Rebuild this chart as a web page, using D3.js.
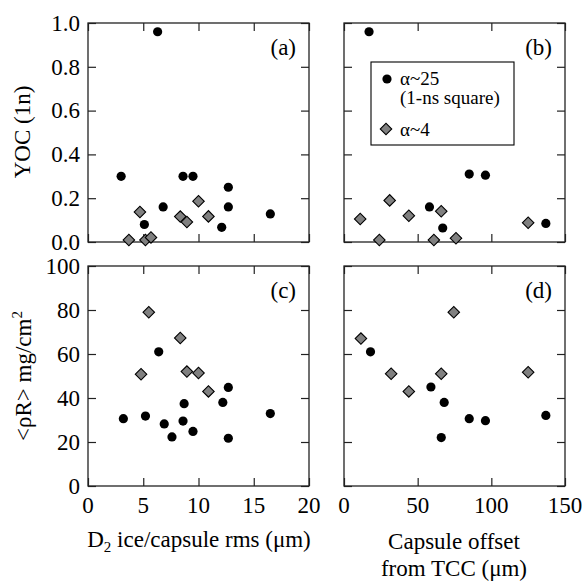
<!DOCTYPE html>
<head>
    <meta charset=utf-8>
    <title>YOC and rhoR</title>
    <script src="https://d3js.org/d3.v7.min.js"></script>
</head>
<body style="margin:0">
<script>
    // panel (a): D2 ice/capsule rms vs YOC
    var aCircleRms = [3.0, 6.3, 6.8, 5.1, 8.6, 9.5, 12.7, 12.7, 12.1, 16.5],
        aCircleYoc = [0.30, 0.96, 0.16, 0.08, 0.30, 0.30, 0.25, 0.16, 0.067, 0.128],
        aDiamondRms = [4.7, 3.7, 5.2, 5.7, 8.35, 8.95, 10.0, 10.9],
        aDiamondYoc = [0.137, 0.009, 0.009, 0.021, 0.116, 0.091, 0.186, 0.117];

    // panel (b): capsule offset vs YOC
    var bCircleOffset = [17, 85, 96, 58, 67, 137],
        bCircleYoc = [0.96, 0.31, 0.305, 0.16, 0.064, 0.085],
        bDiamondOffset = [11, 31, 44, 66, 24, 61, 76, 125],
        bDiamondYoc = [0.105, 0.19, 0.12, 0.14, 0.009, 0.009, 0.017, 0.088];

    // panel (c): rms vs <rhoR>
    var cCircleRms = [3.2, 5.2, 6.4, 6.9, 7.6, 8.7, 8.6, 9.5, 12.2, 12.7, 12.7, 16.5],
        cCircleRhoR = [30.6, 31.8, 61.0, 28.2, 22.3, 37.4, 29.5, 24.8, 38.0, 44.8, 21.7, 32.9],
        cDiamondRms = [5.5, 4.8, 8.35, 8.95, 10.0, 10.9],
        cDiamondRhoR = [79, 50.8, 67.3, 52, 51.4, 43];

    // panel (d): offset vs <rhoR>
    var dCircleOffset = [18, 59, 68, 85, 96, 137, 66],
        dCircleRhoR = [61, 45, 38, 30.6, 29.7, 32.1, 22],
        dDiamondOffset = [11.5, 74.5, 32, 66, 44, 125],
        dDiamondRhoR = [67, 79, 51, 51, 43, 51.7];

    var rmsTicks = [0, 5, 10, 15, 20],
        offsetTicks = [0, 50, 100, 150],
        yocTicks = [0, 0.2, 0.4, 0.6, 0.8, 1.0],
        rhoRTicks = [0, 20, 40, 60, 80, 100];

    var FONT = "'Liberation Serif', monospace";

    var svg = d3.select("body").append("svg")
        .attr("width", 588).attr("height", 583);

    var colL = [88, 309], colR = [344, 565],
        rowT = [242, 23], rowB = [486, 266];

    var xRms = d3.scaleLinear().domain([0, 20]).range(colL),
        xOff = d3.scaleLinear().domain([0, 150]).range(colR),
        yYoc = d3.scaleLinear().domain([0, 1]).range(rowT),
        yRho = d3.scaleLinear().domain([0, 100]).range(rowB);

    var zip = (xs, ys) => xs.map((v, i) => [v, ys[i]]);

    // every label goes through here so the serif font sticks
    function label(parent, size, str) {
        return parent.append("text").attr("font-size", size)
            .style("font-family", FONT).text(str);
    }

    function diamond(sel) {
        return sel.attr("d", d3.symbol(d3.symbolSquare, 66))
            .attr("fill", "#808080").attr("stroke", "#000").attr("stroke-width", 1.1);
    }

    function panel(x, y, xt, yt, showX, showY, fmtY, tag, circles, diamonds) {
        var g = svg.append("g");
        var x0 = x.range()[0], x1 = x.range()[1], y0 = y.range()[0], y1 = y.range()[1];

        // inward ticks on all four sides, labels drawn by hand below
        g.append("g").attr("transform", "translate(0," + y0 + ")")
            .call(d3.axisBottom(x).tickValues(xt).tickSizeInner(-8).tickSizeOuter(0).tickFormat(""));
        g.append("g").attr("transform", "translate(0," + y1 + ")")
            .call(d3.axisTop(x).tickValues(xt).tickSizeInner(-8).tickSizeOuter(0).tickFormat(""));
        g.append("g").attr("transform", "translate(" + x0 + ",0)")
            .call(d3.axisLeft(y).tickValues(yt).tickSizeInner(-8).tickSizeOuter(0).tickFormat(""));
        g.append("g").attr("transform", "translate(" + x1 + ",0)")
            .call(d3.axisRight(y).tickValues(yt).tickSizeInner(-8).tickSizeOuter(0).tickFormat(""));
        g.selectAll(".domain").remove();
        g.selectAll(".tick text").remove();
        g.selectAll(".tick line").attr("stroke", "#222").attr("stroke-width", 1.2);

        if (showX) {
            xt.forEach(v => label(g, 23, v).attr("x", x(v)).attr("y", y0 + 27)
                .attr("text-anchor", "middle"));
        }
        if (showY) {
            yt.forEach(v => label(g, 23, fmtY(v)).attr("x", x0 - 8).attr("y", y(v))
                .attr("dy", "0.34em").attr("text-anchor", "end"));
        }

        g.append("rect").attr("x", x0).attr("y", y1).attr("width", x1 - x0).attr("height", y0 - y1)
            .attr("fill", "none").attr("stroke", "#222").attr("stroke-width", 1.3);

        label(g, 23, tag).attr("x", x1 - 13).attr("y", y1 + 32).attr("text-anchor", "end");

        g.selectAll("circle").data(circles).join("circle")
            .attr("r", 4.6).attr("fill", "#000")
            .attr("cx", d => x(d[0])).attr("cy", d => y(d[1]));

        g.selectAll("path.diam").data(diamonds).join("path")
            .attr("class", "diam").call(diamond)
            .attr("transform", d => "translate(" + x(d[0]) + "," + y(d[1]) + ") rotate(45)");
    }

    var f1 = d3.format(".1f"), f0 = d3.format("d");

    panel(xRms, yYoc, rmsTicks, yocTicks, false, true, f1, "(a)",
        zip(aCircleRms, aCircleYoc), zip(aDiamondRms, aDiamondYoc));
    panel(xOff, yYoc, offsetTicks, yocTicks, false, false, f1, "(b)",
        zip(bCircleOffset, bCircleYoc), zip(bDiamondOffset, bDiamondYoc));
    panel(xRms, yRho, rmsTicks, rhoRTicks, true, true, f0, "(c)",
        zip(cCircleRms, cCircleRhoR), zip(cDiamondRms, cDiamondRhoR));
    panel(xOff, yRho, offsetTicks, rhoRTicks, true, false, f0, "(d)",
        zip(dCircleOffset, dCircleRhoR), zip(dDiamondOffset, dDiamondRhoR));

    // legend inside (b)
    var lg = svg.append("g").attr("transform", "translate(371,62)");
    lg.append("rect").attr("width", 143).attr("height", 83)
        .attr("fill", "#fff").attr("stroke", "#000").attr("stroke-width", 1.1);
    lg.append("circle").attr("r", 4.6).attr("fill", "#000").attr("cx", 16).attr("cy", 17);
    label(lg, 19, "\u03b1~25").attr("x", 29).attr("y", 23);
    label(lg, 19, "(1-ns square)").attr("x", 29).attr("y", 42);
    lg.append("path").call(diamond).attr("transform", "translate(15,67) rotate(45)");
    label(lg, 19, "\u03b1~4").attr("x", 29).attr("y", 74);

    // axis titles
    label(svg, 23, "YOC (1n)").attr("transform", "translate(30,132) rotate(-90)")
        .attr("text-anchor", "middle");

    var rt = label(svg, 23, null).attr("transform", "translate(31,376) rotate(-90)")
        .attr("text-anchor", "middle");
    rt.append("tspan").text("<\u03c1R> mg/cm");
    rt.append("tspan").attr("font-size", 15).attr("dy", -9).text("2");

    var xt = label(svg, 23, null).attr("x", 199).attr("y", 547).attr("text-anchor", "middle");
    xt.append("tspan").text("D");
    xt.append("tspan").attr("font-size", 15).attr("dy", 5).text("2");
    xt.append("tspan").attr("dy", -5).text(" ice/capsule rms (\u03bcm)");

    label(svg, 23, "Capsule offset").attr("x", 454).attr("y", 549).attr("text-anchor", "middle");
    label(svg, 23, "from TCC (\u03bcm)").attr("x", 454).attr("y", 576).attr("text-anchor", "middle");
</script>
</body>
